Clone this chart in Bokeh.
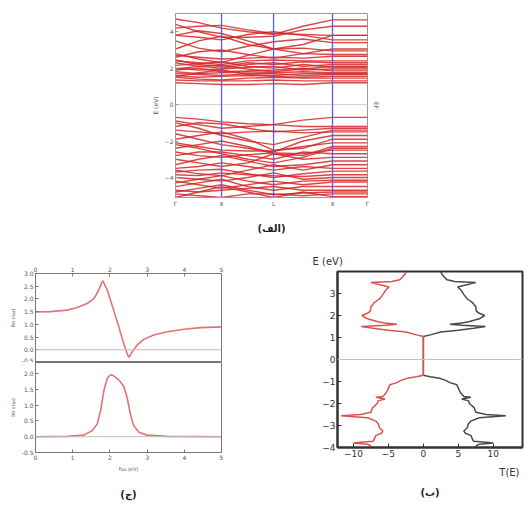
from bokeh.plotting import figure
from bokeh.layouts import row, column, Spacer
from bokeh.models import FixedTicker, Title, Range1d, Span, NumeralTickFormatter, LinearAxis
from bokeh.embed import file_html
from bokeh.resources import INLINE

# ---------------- data: panel (الف) band structure ----------------
kpath_positions = [0.0, 1.0, 2.13, 3.41, 4.17]
kpath_labels = ["Γ", "X", "L", "X", "Γ"]
band_k = [0.0, 0.5, 1.0, 1.57, 2.13, 2.77, 3.41, 4.17]
conduction_bands = [
    [4.70, 4.50, 4.20, 4.00, 3.85, 4.30, 4.65, 4.65],
    [4.40, 4.00, 3.70, 3.70, 3.75, 4.10, 4.30, 4.30],
    [4.20, 4.30, 4.35, 4.10, 3.90, 3.85, 3.80, 3.80],
    [3.80, 4.05, 3.90, 3.50, 3.05, 3.30, 3.80, 3.80],
    [3.80, 3.70, 3.55, 3.85, 4.00, 3.80, 3.55, 3.55],
    [3.50, 3.10, 2.90, 3.20, 3.45, 3.60, 3.40, 3.40],
    [3.05, 3.50, 3.75, 3.30, 3.05, 2.80, 3.05, 3.05],
    [2.80, 2.50, 2.30, 2.70, 3.05, 3.10, 2.95, 2.95],
    [2.60, 2.90, 3.00, 2.75, 2.55, 2.80, 2.75, 2.75],
    [2.70, 2.60, 2.50, 2.55, 2.60, 2.55, 2.65, 2.65],
    [2.45, 2.20, 2.10, 2.30, 2.20, 2.35, 2.30, 2.30],
    [2.40, 2.30, 2.20, 2.40, 2.45, 2.40, 2.40, 2.40],
    [2.30, 2.10, 2.00, 2.20, 2.30, 2.10, 2.20, 2.20],
    [2.15, 2.25, 2.35, 2.10, 2.00, 2.20, 2.05, 2.05],
    [2.00, 1.90, 1.95, 2.05, 2.10, 1.90, 1.95, 1.95],
    [1.95, 2.10, 2.15, 1.95, 1.80, 1.95, 2.10, 2.10],
    [1.90, 2.00, 1.80, 1.85, 1.90, 2.00, 1.85, 1.85],
    [1.80, 1.70, 1.75, 1.80, 1.75, 1.80, 1.75, 1.75],
    [1.70, 1.65, 1.60, 1.70, 1.70, 1.60, 1.65, 1.65],
    [1.55, 1.75, 1.90, 1.65, 1.60, 1.70, 1.70, 1.70],
    [1.60, 1.50, 1.55, 1.60, 1.55, 1.50, 1.55, 1.55],
    [1.50, 1.40, 1.35, 1.45, 1.50, 1.45, 1.45, 1.45],
    [1.35, 1.30, 1.30, 1.30, 1.35, 1.30, 1.30, 1.30],
    [1.20, 1.15, 1.10, 1.10, 1.15, 1.10, 1.20, 1.20],
]
valence_bands = [
    [-0.70, -0.80, -0.95, -1.05, -1.10, -0.85, -0.70, -0.70],
    [-0.90, -1.10, -1.30, -1.20, -1.10, -1.20, -1.20, -1.20],
    [-1.00, -1.30, -1.70, -2.00, -2.20, -1.80, -1.40, -1.40],
    [-1.20, -1.00, -1.05, -1.30, -1.50, -1.40, -1.30, -1.30],
    [-1.40, -1.50, -1.60, -1.50, -1.45, -1.55, -1.50, -1.50],
    [-1.60, -1.90, -2.20, -2.40, -2.60, -2.00, -1.70, -1.70],
    [-1.90, -1.70, -1.50, -1.90, -2.50, -2.40, -1.90, -1.90],
    [-2.10, -2.30, -2.50, -2.55, -2.55, -2.30, -2.10, -2.10],
    [-2.20, -2.40, -2.70, -3.00, -3.20, -2.90, -2.40, -2.40],
    [-2.40, -2.20, -2.00, -2.30, -2.70, -2.80, -2.30, -2.30],
    [-2.60, -2.80, -2.90, -2.75, -2.65, -2.70, -2.50, -2.50],
    [-2.80, -2.60, -2.60, -2.80, -3.00, -2.60, -2.70, -2.70],
    [-3.00, -3.20, -3.40, -3.20, -2.70, -3.00, -2.90, -2.90],
    [-3.30, -3.00, -2.80, -3.10, -3.40, -3.30, -3.10, -3.10],
    [-3.50, -3.40, -3.20, -3.40, -3.60, -3.40, -3.50, -3.50],
    [-3.60, -3.80, -3.90, -3.60, -3.30, -3.60, -3.30, -3.30],
    [-3.70, -3.60, -3.55, -3.80, -4.00, -3.80, -3.65, -3.65],
    [-3.85, -3.90, -3.75, -3.85, -3.90, -3.95, -3.85, -3.85],
    [-4.00, -4.10, -4.20, -4.00, -3.75, -4.10, -4.00, -4.00],
    [-4.20, -4.40, -4.60, -4.40, -4.20, -4.40, -4.25, -4.25],
    [-4.30, -4.10, -3.90, -4.20, -4.40, -4.20, -4.15, -4.15],
    [-4.50, -4.30, -4.10, -4.50, -4.70, -4.50, -4.50, -4.50],
    [-4.70, -4.80, -4.70, -4.60, -4.50, -4.70, -4.70, -4.70],
    [-4.80, -4.60, -4.40, -4.70, -4.95, -4.85, -4.80, -4.80],
    [-4.90, -5.00, -5.10, -4.90, -4.90, -5.00, -4.90, -4.90],
    [-5.10, -4.80, -4.50, -4.80, -5.10, -4.80, -5.05, -5.05],
]

# ---------------- data: panel (ج) dielectric function ----------------
omega_re = [0.0, 0.4, 0.85, 1.12, 1.39, 1.57, 1.70, 1.79, 1.81, 1.93, 2.10, 2.24,
            2.37, 2.46, 2.51, 2.60, 2.73, 2.91, 3.18, 3.54, 3.99, 4.44, 5.0]
re_eps = [1.49, 1.50, 1.56, 1.66, 1.82, 2.01, 2.35, 2.67, 2.71, 2.35, 1.56, 0.90,
          0.25, -0.14, -0.30, -0.08, 0.18, 0.41, 0.58, 0.71, 0.81, 0.87, 0.90]
omega_im = [0.0, 0.85, 1.30, 1.52, 1.66, 1.75, 1.84, 1.93, 2.02, 2.10, 2.24, 2.37,
            2.46, 2.55, 2.64, 2.78, 3.0, 3.54, 5.0]
im_eps = [0.0, 0.01, 0.05, 0.19, 0.40, 0.83, 1.47, 1.85, 1.96, 1.93, 1.80, 1.60,
          1.26, 0.72, 0.35, 0.14, 0.05, 0.01, 0.0]

# ---------------- data: panel (ب) transmission ----------------
energy = [-4.0, -3.92, -3.85, -3.8, -3.76, -3.72, -3.6, -3.45, -3.35, -3.25, -3.1,
          -2.95, -2.8, -2.65, -2.56, -2.5, -2.4, -2.2, -2.0, -1.88, -1.8, -1.72,
          -1.68, -1.5, -1.3, -1.15, -1.05, -0.95, -0.85, -0.78, -0.72, 1.05, 1.12,
          1.25, 1.33, 1.42, 1.5, 1.56, 1.6, 1.66, 1.72, 1.85, 2.0, 2.1, 2.2, 2.4,
          2.6, 2.75, 2.95, 3.15, 3.3, 3.42, 3.5, 3.55, 3.62, 3.75, 3.9, 4.0]
transmission = [7.5, 7.6, 8.0, 10.0, 9.0, 7.2, 7.0, 6.8, 6.0, 5.8, 6.3,
                6.4, 6.8, 8.0, 11.8, 9.0, 7.5, 7.3, 6.6, 6.5, 5.5, 6.8,
                5.8, 5.3, 5.0, 4.8, 3.8, 3.2, 2.3, 1.0, 0.0, 0.0, 1.0,
                2.5, 5.0, 7.2, 8.9, 5.5, 3.8, 5.5, 6.5, 8.0, 8.8, 8.0, 7.6, 7.5,
                7.0, 6.3, 5.8, 5.4, 4.9, 6.5, 7.5, 4.5, 3.4, 3.0, 2.6, 2.5]
transmission_mirror = [-t for t in transmission]

FONT = "DejaVu Sans"


def style_axes(p, color="#888888", size="6px", width=1):
    p.grid.visible = False
    for ax in p.axis:
        ax.axis_line_color = color
        ax.axis_line_width = width
        ax.major_tick_in = 3
        ax.major_tick_out = 0
        ax.minor_tick_line_color = None
        ax.major_tick_line_color = color
        ax.major_label_text_font = FONT
        ax.major_label_text_font_size = size
        ax.major_label_text_color = "#555555"
        ax.axis_label_text_font = FONT
        ax.axis_label_text_font_style = "normal"
        ax.axis_label_text_color = "#555555"
        ax.major_label_standoff = 2
        ax.axis_label_standoff = 3
    p.outline_line_color = color
    p.outline_line_width = width
    p.background_fill_color = "white"
    p.border_fill_color = "white"


def caption_axis(text, standoff):
    # an axis with no ticks and no tick labels, only its label: the panel caption
    return LinearAxis(axis_label=text, ticker=FixedTicker(ticks=[]),
                      axis_line_color=None, major_tick_line_color=None,
                      minor_tick_line_color=None,
                      major_label_standoff=0, major_tick_in=0, major_tick_out=0,
                      minor_tick_in=0, minor_tick_out=0,
                      axis_label_standoff=standoff, axis_label_text_font=FONT,
                      axis_label_text_font_size="10px", axis_label_text_font_style="bold",
                      axis_label_text_color="#222222")


# ---------------- panel A ----------------
pA = figure(frame_width=192, frame_height=184, x_range=Range1d(0, 4.17),
            y_range=Range1d(-5.1, 5.0), min_border_left=40, min_border_top=13,
            min_border_right=34, min_border_bottom=48,
            output_backend="svg", toolbar_location=None)
style_axes(pA, color="#999999", size="6px")
pA.xaxis.ticker = FixedTicker(ticks=kpath_positions)
pA.xaxis.major_label_overrides = {k: lab for k, lab in zip(kpath_positions, kpath_labels)}
pA.xaxis.axis_label = "(الف)"
pA.xaxis.axis_label_standoff = 13
pA.xaxis.axis_label_text_font_size = "10px"
pA.xaxis.axis_label_text_font_style = "bold"
pA.xaxis.axis_label_text_color = "#222222"
pA.yaxis.ticker = FixedTicker(ticks=[-4, -2, 0, 2, 4])
pA.yaxis.axis_label = "E (eV)"
pA.yaxis.axis_label_text_font_size = "6px"
pA.add_layout(Span(location=0, dimension="width", line_color="#cfcfcf", line_width=1,
                   level="underlay"))
all_bands = conduction_bands + valence_bands
pA.multi_line(xs=[band_k] * len(all_bands), ys=all_bands, line_color="#d42424",
              line_width=1.4, line_alpha=0.85)
for kp in kpath_positions[1:4]:
    pA.add_layout(Span(location=kp, dimension="height", line_color="#5c5ce6",
                       line_width=1.3, level="overlay"))
pA.add_layout(Title(text="EF", align="center", text_font_size="6px",
                    text_color="#666666", text_font=FONT, text_font_style="normal"), "right")

# ---------------- panel C (two stacked) ----------------
curve_c = "#e07474"
pCt = figure(frame_width=186, frame_height=89, x_range=Range1d(0, 5),
             y_range=Range1d(-0.5, 3.0), x_axis_location="above",
             min_border_left=35, min_border_right=10, min_border_top=28,
             min_border_bottom=0, output_backend="svg", toolbar_location=None)
style_axes(pCt, color="#777777", size="6px")
pCt.yaxis.ticker = FixedTicker(ticks=[-0.5, 0.0, 0.5, 1.0, 1.5, 2.0, 2.5, 3.0])
pCt.xaxis.ticker = FixedTicker(ticks=[0, 1, 2, 3, 4, 5])
pCt.yaxis.axis_label = "Re ε(ω)"
pCt.yaxis.axis_label_text_font_size = "5px"
pCt.add_layout(Span(location=0, dimension="width", line_color="#bdbdbd", line_width=1))
pCt.line(omega_re, re_eps, line_color=curve_c, line_width=1.6)

pCb = figure(frame_width=186, frame_height=90, x_range=Range1d(0, 5),
             y_range=Range1d(-0.5, 2.35),
             min_border_left=35, min_border_right=10, min_border_top=0,
             min_border_bottom=53, output_backend="svg", toolbar_location=None)
style_axes(pCb, color="#777777", size="6px")
pCb.yaxis.ticker = FixedTicker(ticks=[-0.5, 0.0, 0.5, 1.0, 1.5, 2.0])
pCb.xaxis.ticker = FixedTicker(ticks=[0, 1, 2, 3, 4, 5])
pCb.yaxis.axis_label = "Im ε(ω)"
pCb.yaxis.axis_label_text_font_size = "5px"
pCb.xaxis.axis_label = "ħω (eV)"
pCb.xaxis.axis_label_text_font_size = "5px"
pCb.add_layout(Span(location=0, dimension="width", line_color="#bdbdbd", line_width=1))
pCb.line(omega_im, im_eps, line_color=curve_c, line_width=1.6)
pCb.add_layout(caption_axis("(ج)", 14), "below")

for pp in (pCt, pCb):
    pp.yaxis.formatter = NumeralTickFormatter(format="0.0")

# ---------------- panel B ----------------
pB = figure(frame_width=185, frame_height=176, x_range=Range1d(-12.3, 14.2),
            y_range=Range1d(-4, 4), min_border_left=46, min_border_top=26,
            min_border_right=9, min_border_bottom=58,
            output_backend="svg", toolbar_location=None)
style_axes(pB, color="#333333", size="9px", width=2)
for ax in pB.axis:
    ax.major_label_text_color = "#333333"
    ax.major_tick_in = 4
pB.yaxis.ticker = FixedTicker(ticks=[-4, -3, -2, -1, 0, 1, 2, 3])
pB.xaxis.ticker = FixedTicker(ticks=[-10, -5, 0, 5, 10])
pB.add_layout(Span(location=0, dimension="width", line_color="#e6b3b3", line_width=1.2))
pB.line(transmission, energy, line_color="#4a4a4a", line_width=1.5)
pB.line(transmission_mirror, energy, line_color="#d9534f", line_width=1.5)
pB.add_layout(Title(text="E (eV)", align="left", offset=-25, text_font_size="10px",
                    text_font=FONT, text_font_style="normal", text_color="#333333"), "above")
pB.add_layout(Title(text="T(E)", align="right", offset=3, text_font_size="10px",
                    text_font=FONT, text_font_style="normal", text_color="#333333"), "below")
pB.add_layout(caption_axis("(ب)", 4), "below")

layout = column(
    row(Spacer(width=135, height=245), pA),
    row(column(pCt, pCb), Spacer(width=60, height=10), pB),
)

open("out.html", "w").write(file_html(layout, INLINE))
